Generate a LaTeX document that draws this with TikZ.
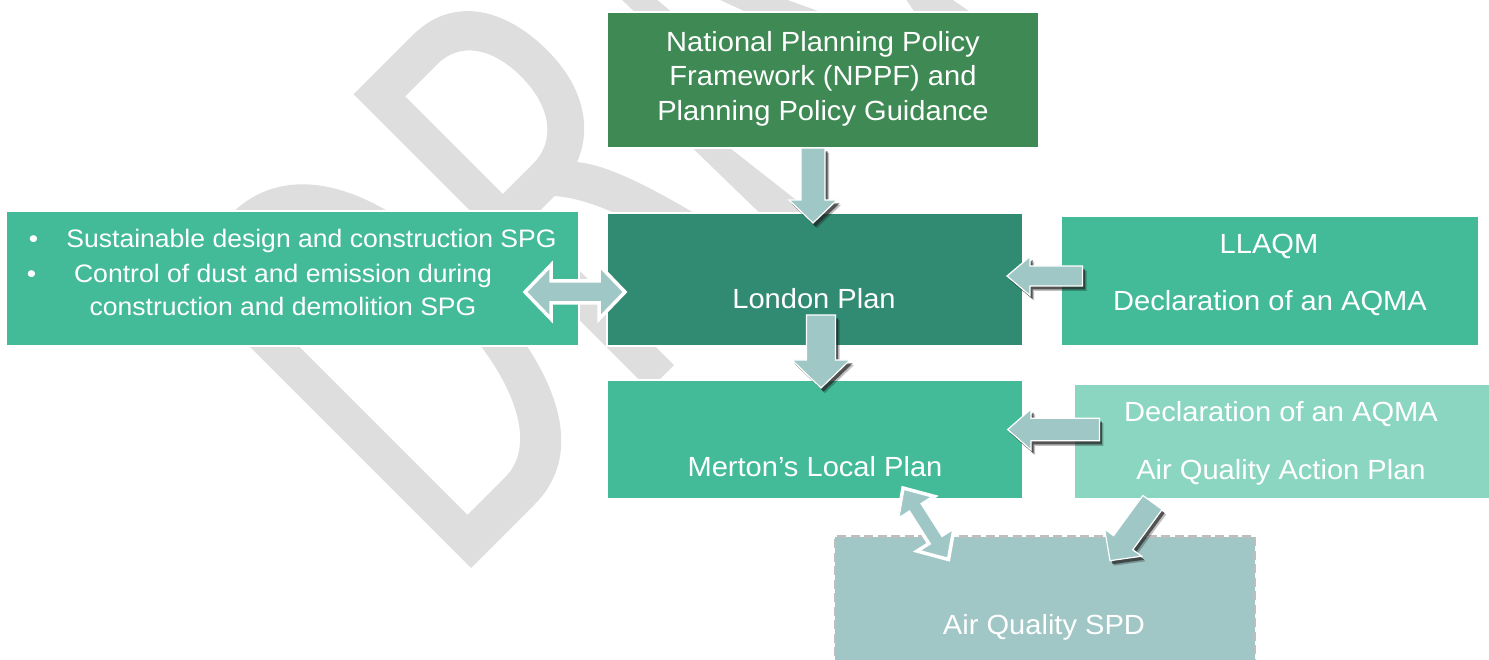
\documentclass[tikz,border=0pt]{standalone}
\usepackage{fontspec}
\setmainfont{Liberation Sans}[FakeStretch=1.05]
\usetikzlibrary{calc,shadows}
\definecolor{nppfc}{RGB}{63,137,84}
\definecolor{lpc}{RGB}{49,139,114}
\definecolor{midc}{RGB}{67,186,152}
\definecolor{lightc}{RGB}{139,214,192}
\definecolor{spdc}{RGB}{160,198,197}
\definecolor{arrc}{RGB}{159,199,198}
\definecolor{wmc}{RGB}{222,222,222}
\definecolor{dashc}{RGB}{190,190,190}

% block arrow: style, tail, tip, shaft half-width, head half-width, head length
\newcommand{\mkarrow}[6]{%
  \coordinate (#2-h) at ($(#3)!#6pt!(#2)$);
  \path[#1] ($(#2)!#4pt!90:(#3)$) -- ($(#2-h)!#4pt!90:(#3)$) -- ($(#2-h)!#5pt!90:(#3)$)
    -- (#3) -- ($(#2-h)!#5pt!-90:(#3)$) -- ($(#2-h)!#4pt!-90:(#3)$) -- ($(#2)!#4pt!-90:(#3)$) -- cycle;}
% double block arrow: style, tip1, tip2, shaft half-width, head half-width, head length
\newcommand{\mkdblarrow}[6]{%
  \coordinate (#2-h) at ($(#2)!#6pt!(#3)$);
  \coordinate (#3-h) at ($(#3)!#6pt!(#2)$);
  \path[#1] (#2) -- ($(#2-h)!#5pt!90:(#3)$) -- ($(#2-h)!#4pt!90:(#3)$) -- ($(#3-h)!#4pt!90:(#3)$)
    -- ($(#3-h)!#5pt!90:(#3)$) -- (#3) -- ($(#3-h)!#5pt!-90:(#3)$) -- ($(#3-h)!#4pt!-90:(#3)$)
    -- ($(#2-h)!#4pt!-90:(#3)$) -- ($(#2-h)!#5pt!-90:(#3)$) -- cycle;}

\tikzset{
  pbox/.style={rectangle, inner sep=0pt, outer sep=0pt, preaction={draw=white, line width=4pt}},
  txt/.style={text=white, inner sep=0pt, anchor=base, font=\fontsize{27.7pt}{33pt}\selectfont},
  stxt/.style={txt, font=\fontsize{25.3pt}{30pt}\selectfont},
  sarrow/.style={fill=arrc, draw=white, line width=1.2pt, line join=miter,
    drop shadow={shadow xshift=4pt, shadow yshift=-5pt, opacity=0.25, fill=black},
    drop shadow={shadow xshift=2.5pt, shadow yshift=-3.5pt, opacity=0.7, fill=black!85}},
  darrow/.style={fill=arrc, draw=white, line width=3.5pt, line join=miter},
  wm/.style={fill=wmc},
}

\begin{document}
\begin{tikzpicture}[x=1pt, y=-1pt]
\useasboundingbox (0,0) rectangle (1489,660);
\clip (0,0) rectangle (1489,660);

% ---- DRAFT watermark ----
\begin{scope}[shift={(471,568)}, x={(0.7071pt,0.7071pt)}, y={(-0.7071pt,0.7071pt)}]
  % D
  \fill[wm, even odd rule] (0,0) -- (90,0) .. controls (170,0) and (205,90) .. (205,210)
      .. controls (205,340) and (160,420) .. (80,420) -- (0,420) -- cycle
    (35,40) -- (88,40) .. controls (138,40) and (168,110) .. (168,210)
      .. controls (168,310) and (135,384) .. (80,384) -- (35,384) -- cycle;
  % R
  \fill[wm, even odd rule] (252,0) -- (252,418) -- (335,418)
      .. controls (392,418) and (420,372) .. (420,312)
      .. controls (420,262) and (398,226) .. (362,212)
      .. controls (385,185) and (405,120) .. (430,0) -- (392,0)
      .. controls (372,100) and (352,170) .. (322,204) -- (287,204) -- (287,0) -- cycle
    (287,242) -- (287,380) -- (333,380) .. controls (365,380) and (383,352) .. (383,312)
      .. controls (383,270) and (362,242) .. (330,242) -- cycle;
\end{scope}
\fill[wm] (674,130) -- (707,130) -- (828,225) -- (772,225) -- cycle;
\fill[wm] (620,-2) -- (655,-2) -- (681,20) -- (643,20) -- cycle;
\fill[wm] (716,-2) -- (782,-2) -- (843,20) -- (763,20) -- cycle;
\fill[wm] (905,-2) -- (950,-2) -- (982,20) -- (920,20) -- cycle;

% ---- boxes ----
\node[pbox, fill=nppfc, minimum width=430pt, minimum height=134pt] (nppf) at (823,79.7) {};
\node[pbox, fill=lpc, minimum width=414pt, minimum height=130.7pt] (lp) at (814.6,279.7) {};
\node[pbox, fill=midc, minimum width=571pt, minimum height=133.3pt] (spg) at (292.7,278.3) {};
\node[pbox, fill=midc, minimum width=416pt, minimum height=128.3pt] (llaqm) at (1269.7,280.8) {};
\node[pbox, fill=midc, minimum width=414.5pt, minimum height=117pt] (merton) at (814.8,439.2) {};
\node[pbox, fill=lightc, minimum width=430pt, minimum height=112.7pt] (aqap) at (1289.7,441.3) {};
\node[rectangle, inner sep=0pt, fill=spdc, draw=dashc, line width=2.5pt, dash pattern=on 9pt off 4.5pt,
      minimum width=420pt, minimum height=170pt] (spd) at (1045,621.7) {};

% ---- texts ----
\node[txt] (nppf1) at (823,51.7) {National Planning Policy};
\node[txt] (nppf2) at (823,86) {Framework (NPPF) and};
\node[txt] (nppf3) at (823,120.7) {Planning Policy Guidance};
\node[txt] (lptxt) at (814,309) {London Plan};
\node[txt] (llaqm1) at (1269,253.3) {LLAQM};
\node[txt] (llaqm2) at (1270,311) {Declaration of an AQMA};
\node[txt] (mertontxt) at (815,476) {Merton’s Local Plan};
\node[txt] (aqap1) at (1281,421.7) {Declaration of an AQMA};
\node[txt] (aqap2) at (1281,479.3) {Air Quality Action Plan};
\node[txt] (spdtxt) at (1044,634) {Air Quality SPD};
\node[stxt] (spg1) at (311.5,247.3) {Sustainable design and construction SPG};
\node[stxt] (spg2) at (283,282.5) {Control of dust and emission during};
\node[stxt] (spg3) at (283,315.5) {construction and demolition SPG};
\node[stxt] (bul1) at (33.5,247.3) {•};
\node[stxt] (bul2) at (31.6,282.5) {•};

% ---- arrows ----
\coordinate (a1s) at (813,148);    \coordinate (a1e) at (813,223);
\coordinate (a2s) at (821,315);    \coordinate (a2e) at (821,388);
\coordinate (a3s) at (1082.5,276); \coordinate (a3e) at (1007,276);
\coordinate (a5s) at (1099.4,429.5); \coordinate (a5e) at (1007.7,429.5);
\coordinate (a7s) at (1152.5,502.5); \coordinate (a7e) at (1110,560.7);
\coordinate (a4l) at (525,292);    \coordinate (a4r) at (625,292);
\coordinate (a6u) at (903,488);    \coordinate (a6d) at (948.5,559.5);

\mkarrow{sarrow}{a1s}{a1e}{12}{24}{23}
\mkarrow{sarrow}{a2s}{a2e}{14.5}{29}{28}
\mkarrow{sarrow}{a3s}{a3e}{10}{19.5}{23}
\mkarrow{sarrow}{a5s}{a5e}{11.3}{20.5}{23.3}
\mkarrow{sarrow}{a7s}{a7e}{11.9}{22.9}{22.3}
\mkdblarrow{darrow}{a4l}{a4r}{11}{27}{26}
\mkdblarrow{darrow}{a6u}{a6d}{8}{22}{24}
\end{tikzpicture}
\end{document}
